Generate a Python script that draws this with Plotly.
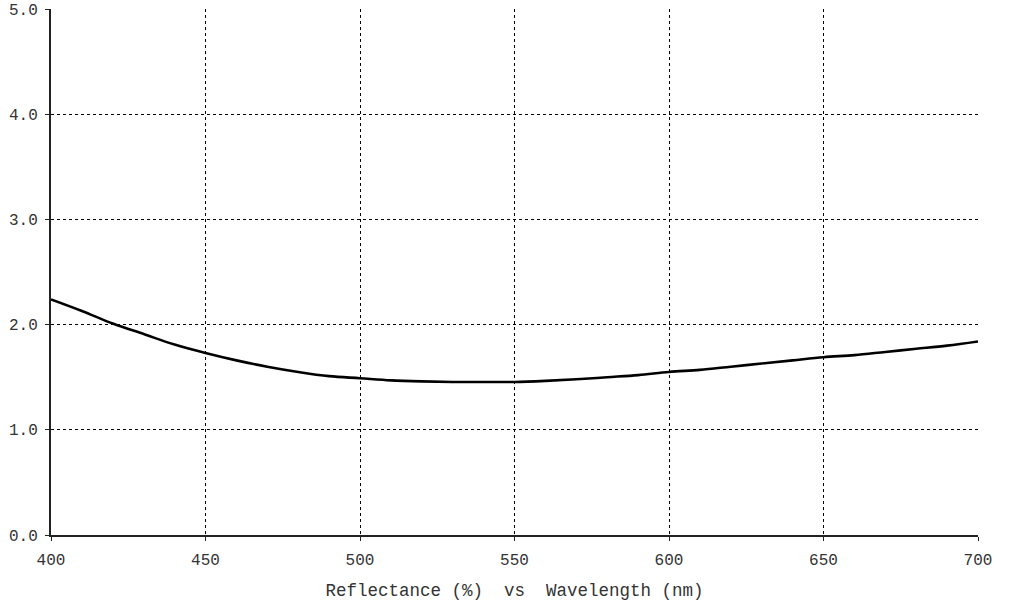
import plotly.graph_objects as go

wavelength = [400, 410, 420, 430, 440, 450, 460, 470, 480, 490, 500, 510, 520, 530, 540,
              550, 560, 570, 580, 590, 600, 610, 620, 630, 640, 650, 660, 670, 680, 690, 700]
reflectance = [2.24, 2.13, 2.01, 1.91, 1.81, 1.73, 1.66, 1.60, 1.55, 1.51, 1.49, 1.47, 1.46, 1.455, 1.455,
               1.455, 1.465, 1.48, 1.50, 1.52, 1.55, 1.57, 1.60, 1.63, 1.66, 1.69, 1.71, 1.74, 1.77, 1.80, 1.84]
x_ticks = [400, 450, 500, 550, 600, 650, 700]
y_ticks = [0, 1, 2, 3, 4, 5]
y_labels = ["0.0", "1.0", "2.0", "3.0", "4.0", "5.0"]

font = dict(family="Liberation Mono", size=16, color="#333333")
title_font = dict(family="Liberation Mono", size=17.5, color="#333333")

fig = go.Figure(go.Scatter(x=wavelength, y=reflectance, mode="lines",
                           line=dict(color="black", width=2.6), line_shape="spline",
                           hoverinfo="skip"))

fig.update_layout(
    width=1018, height=606,
    margin=dict(l=51, r=40, t=9, b=71, autoexpand=False),
    paper_bgcolor="white", plot_bgcolor="white",
    showlegend=False,
    font=font,
    xaxis=dict(range=[400, 700], tickvals=x_ticks, ticktext=[str(v) for v in x_ticks],
               showgrid=True, gridcolor="black", griddash="3px,3px", gridwidth=1,
               showline=True, linecolor="#222222", linewidth=2,
               ticks="outside", ticklen=4, tickcolor="#222222", ticklabelstandoff=5,
               zeroline=False, tickfont=font, automargin=False,
               title=dict(text="Reflectance (%)  vs  Wavelength (nm)", font=title_font, standoff=15)),
    yaxis=dict(range=[0, 5], tickvals=y_ticks, ticktext=y_labels,
               showgrid=True, gridcolor="black", griddash="3px,3px", gridwidth=1,
               showline=True, linecolor="#222222", linewidth=2,
               ticks="outside", ticklen=4, tickcolor="#222222", ticklabelstandoff=4,
               zeroline=False, tickfont=font, automargin=False),
)

fig.write_html("out.html", config={"displayModeBar": False},
               post_script="document.body.style.margin='0';")
